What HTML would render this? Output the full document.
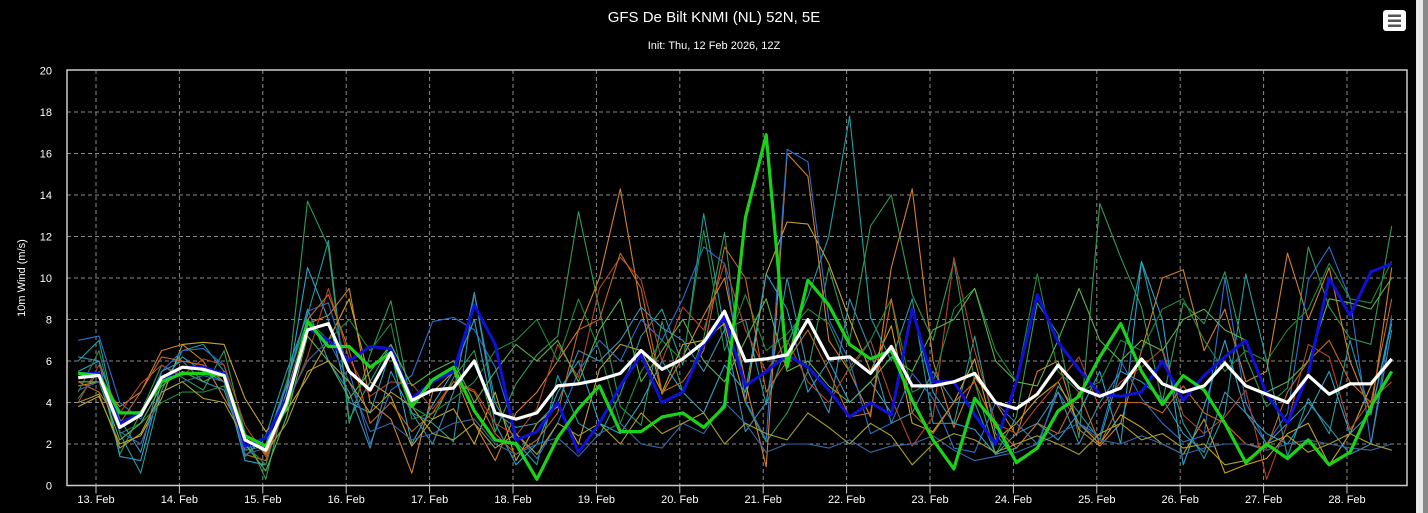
<!DOCTYPE html>
<html><head><meta charset="utf-8"><style>
html,body{margin:0;padding:0;background:#000;width:1428px;height:513px;overflow:hidden}
svg{display:block;font-family:"Liberation Sans",sans-serif}
</style></head><body>
<svg id="chart" width="1428" height="513" viewBox="0 0 1428 513">
<rect x="0" y="0" width="1428" height="513" fill="#000"/>
<rect x="1416" y="0" width="7" height="513" fill="#e8e8e8"/>
<rect x="1423" y="0" width="5" height="513" fill="#8a8a8a"/>
<text x="714" y="22" fill="#fff" font-size="15" text-anchor="middle">GFS De Bilt KNMI (NL) 52N, 5E</text>
<text x="714" y="49" fill="#fff" font-size="11" text-anchor="middle">Init: Thu, 12 Feb 2026, 12Z</text>
<g>
<rect x="1383" y="10" width="23" height="21" rx="3" fill="#fff"/>
<rect x="1388" y="14.5" width="13" height="2.5" fill="#555"/>
<rect x="1388" y="19.5" width="13" height="2.5" fill="#555"/>
<rect x="1388" y="24.5" width="13" height="2.5" fill="#555"/>
</g>
<text transform="translate(25,278) rotate(-90)" fill="#fff" font-size="11" text-anchor="middle">10m Wind (m/s)</text>
<g id="grid"></g>
<g id="series"></g>
<rect x="67" y="70" width="1340" height="415.5" fill="none" stroke="#ccc" stroke-width="1.5"/>
<g id="axes"></g>
</svg>
<script>
const yTicks=[0,2,4,6,8,10,12,14,16,18,20];
const dayLabels=["13. Feb","14. Feb","15. Feb","16. Feb","17. Feb","18. Feb","19. Feb","20. Feb","21. Feb","22. Feb","23. Feb","24. Feb","25. Feb","26. Feb","27. Feb","28. Feb"];
const meanSeries=[5.2,5.3,2.8,3.4,5.2,5.7,5.6,5.3,2.2,1.7,4.0,7.5,7.8,5.5,4.6,6.4,4.1,4.6,4.7,6.0,3.5,3.2,3.5,4.8,4.9,5.1,5.4,6.5,5.6,6.1,6.9,8.4,6.0,6.1,6.3,8.0,6.1,6.2,5.4,6.7,4.8,4.8,5.0,5.4,4.0,3.7,4.4,5.8,4.7,4.3,4.7,6.1,4.9,4.5,4.8,5.9,4.8,4.4,4.0,5.3,4.4,4.9,4.9,6.1];
const controlSeries=[5.4,5.3,3.5,3.5,5.0,5.4,5.4,5.3,2.4,1.9,3.8,7.9,6.7,6.7,5.7,6.4,3.8,5.1,5.7,3.6,2.2,2.0,0.3,2.3,3.7,4.8,2.6,2.6,3.3,3.5,2.8,3.8,12.9,16.9,5.7,9.9,8.7,6.8,6.1,6.5,4.1,2.2,0.8,4.2,3.0,1.1,1.8,3.6,4.3,6.2,7.8,5.5,3.9,5.3,4.6,3.0,1.1,2.0,1.3,2.2,1.0,1.6,3.8,5.5];
const operSeries=[5.4,5.4,3.0,3.5,5.1,5.7,5.7,5.4,1.9,2.3,4.2,7.6,7.0,6.0,6.7,6.6,4.2,5.0,5.5,8.7,6.8,2.2,2.6,4.0,1.6,3.0,4.8,6.3,4.0,4.5,6.8,8.1,4.8,5.5,6.3,5.7,4.6,3.3,4.0,3.4,8.5,5.0,5.0,3.4,2.0,5.0,9.2,6.9,5.6,4.4,4.3,4.5,6.0,4.1,5.3,6.2,7.0,4.4,3.0,5.4,10.0,8.2,10.3,10.7];
const m1=[6.0,7.0,2.5,0.6,4.6,6.5,6.8,5.5,1.4,2.4,5.5,8.2,11.8,3.2,5.0,6.8,3.5,3.0,2.1,9.3,4.0,2.1,1.0,5.3,3.0,2.4,4.4,7.2,8.5,5.8,13.1,7.5,8.0,3.9,6.8,9.1,12.0,17.8,8.1,6.0,9.0,3.0,3.0,7.2,2.5,1.2,1.8,4.8,3.5,2.2,5.6,10.8,6.5,3.0,1.3,3.5,10.2,6.0,1.4,4.2,2.5,7.0,3.4,8.0];
const m2=[4.2,5.5,1.5,3.5,5.8,5.2,4.6,6.5,2.5,0.3,4.5,13.7,11.5,3.0,6.3,8.9,3.8,3.2,5.2,6.5,2.6,4.9,6.3,7.2,13.2,8.5,3.8,2.9,7.9,4.5,7.1,12.2,4.0,2.1,3.5,5.5,10.5,7.0,12.5,14.0,9.2,7.0,10.8,5.0,1.5,3.3,8.8,7.3,2.3,13.6,11.0,8.6,4.0,8.8,7.8,10.3,6.2,3.8,4.7,11.5,8.6,7.1,6.8,12.5];
const m3=[4.8,5.0,3.8,4.5,6.5,6.8,6.0,4.2,2.5,1.5,4.5,7.8,8.2,9.5,4.0,3.2,0.6,4.5,5.5,3.0,1.2,3.5,4.5,6.0,7.5,10.0,14.3,8.5,4.4,6.2,8.2,10.0,5.0,0.9,16.0,14.9,7.0,5.5,3.3,10.5,14.3,6.0,2.8,5.2,4.0,2.4,5.5,6.0,2.7,1.9,3.0,6.5,10.0,10.4,6.5,8.5,5.0,5.5,11.2,8.0,10.5,6.0,3.5,10.5];
const m4=[3.8,4.3,2.0,2.4,4.2,6.8,6.9,6.8,4.2,2.6,3.6,5.2,7.0,9.0,5.0,4.3,1.9,3.2,3.7,2.0,4.5,1.2,3.0,3.8,2.0,5.6,6.8,6.5,4.5,6.8,7.0,7.8,4.0,10.2,12.7,12.6,10.7,8.0,5.5,7.7,3.0,2.6,4.0,6.1,2.2,3.0,4.2,5.0,3.0,2.0,3.4,2.8,2.0,1.5,3.2,0.6,1.0,1.3,2.5,3.0,1.0,2.5,4.8,6.0];
const m5=[7.0,7.2,4.0,3.2,5.5,6.5,6.6,5.8,1.8,2.0,5.0,8.4,8.8,5.5,2.0,4.6,5.3,7.9,8.1,7.5,5.7,2.5,1.3,3.0,5.5,7.0,6.0,8.0,7.0,9.0,11.5,10.7,4.1,2.2,16.2,15.6,8.0,6.0,2.5,3.0,5.4,4.2,1.8,1.6,4.0,3.0,2.0,4.5,3.0,2.4,6.0,4.2,3.0,2.1,2.4,10.0,4.0,2.0,3.5,9.9,11.5,9.0,2.0,8.2];
const m6=[5.5,6.0,1.4,1.2,5.0,6.2,5.5,5.0,1.2,1.0,4.5,10.5,8.0,4.0,3.5,6.5,2.0,3.9,5.5,8.0,3.0,1.0,2.0,4.5,6.0,3.0,2.5,4.0,6.0,4.5,3.5,5.8,4.5,10.2,8.5,4.5,6.0,4.0,5.0,3.5,8.5,4.5,3.0,2.7,1.5,1.8,3.0,2.2,3.5,5.5,2.0,10.8,8.0,1.0,3.8,7.0,3.5,2.5,2.0,3.5,5.5,2.5,3.5,7.8];
const m7=[4.0,5.8,3.5,4.9,5.8,5.3,6.1,5.8,2.9,1.4,3.8,6.2,9.5,6.1,4.3,5.0,4.9,3.7,5.0,4.6,3.0,2.4,3.7,6.8,5.2,9.5,11.0,9.9,6.0,8.6,7.5,10.7,7.5,5.5,7.0,5.0,4.0,5.7,7.0,4.2,1.9,3.3,11.0,6.5,3.0,2.5,3.8,5.0,6.2,3.7,5.0,5.7,6.6,3.4,2.5,3.3,4.6,0.3,3.0,6.8,6.2,2.7,4.1,5.0];
const m8=[4.5,6.5,2.5,3.0,4.0,4.5,4.5,4.8,2.0,1.0,5.0,8.0,7.0,8.0,6.5,7.8,3.2,3.5,4.2,5.0,6.5,7.0,8.0,6.0,9.0,6.5,3.0,5.5,7.0,6.0,12.3,6.5,9.2,6.5,7.3,8.5,7.8,5.5,7.0,9.0,4.5,5.0,8.5,9.5,6.5,5.0,10.2,5.5,4.5,5.0,7.0,6.5,8.5,9.0,7.0,5.5,6.5,6.0,7.5,8.5,10.7,9.0,8.8,10.8];
const m9=[6.2,6.0,3.2,1.6,5.5,6.0,5.0,4.6,1.7,1.9,4.8,8.5,6.0,4.5,1.8,5.5,3.5,2.0,4.5,9.3,3.5,2.8,3.0,4.0,6.5,6.0,7.0,8.6,7.6,7.0,5.5,7.5,2.6,4.0,10.0,5.5,3.5,9.0,6.5,3.0,3.5,5.5,4.0,4.0,1.5,2.5,3.0,4.5,2.0,4.0,5.5,5.0,4.2,2.5,1.6,4.5,3.5,2.0,3.0,4.0,2.8,1.5,2.0,7.5];
const m10=[5.0,5.0,2.2,3.0,4.8,5.5,5.0,5.5,2.0,0.7,3.3,7.2,6.0,4.2,5.5,6.8,4.8,5.5,6.0,4.0,5.5,6.8,6.0,7.0,5.0,7.5,9.0,5.0,6.5,8.0,6.0,5.0,7.0,9.0,5.5,6.0,4.8,4.0,5.0,6.2,5.5,7.5,8.0,9.5,6.0,5.0,4.8,7.0,9.5,7.0,6.0,7.0,6.5,8.0,8.5,7.5,7.0,4.5,5.0,6.0,9.0,8.8,8.5,10.0];
const m11=[5.0,4.5,3.0,4.5,6.2,6.0,5.8,5.0,1.5,1.2,4.2,8.0,9.2,6.5,3.0,4.0,2.6,3.5,5.0,4.5,2.5,1.5,2.2,3.5,7.5,8.0,11.2,9.5,4.5,5.0,6.5,11.5,10.0,4.5,6.0,7.5,5.5,3.3,3.5,9.0,3.5,2.5,4.0,5.0,2.8,1.8,3.0,2.5,4.5,2.0,4.0,4.0,3.5,4.8,3.5,3.0,2.0,1.8,4.5,6.0,7.0,5.0,4.0,9.0];
const m12=[4.6,5.0,2.6,2.0,4.5,5.0,5.3,5.0,1.5,1.8,4.0,6.0,7.0,5.0,2.6,3.0,2.2,2.5,3.0,3.2,2.0,1.5,2.0,2.3,1.4,2.5,3.0,2.0,1.8,3.0,2.5,4.0,3.0,1.6,2.0,2.0,1.8,2.2,1.6,1.9,2.0,2.4,1.7,1.2,1.4,1.6,2.0,2.5,3.0,2.2,2.0,2.4,2.0,1.5,1.8,2.0,2.0,1.7,2.0,2.2,2.0,1.8,1.7,2.0];
const m13=[4.0,4.4,1.8,2.5,4.5,5.0,4.2,4.0,2.2,1.6,3.0,5.5,6.0,5.0,3.5,4.5,3.8,2.5,2.2,3.0,1.8,2.5,1.5,3.0,2.4,3.0,2.0,3.5,2.5,3.0,3.5,2.0,3.0,2.5,2.2,3.5,2.8,2.0,3.0,2.4,1.0,2.0,2.5,2.2,1.6,2.0,2.4,2.0,1.5,2.5,3.0,2.2,2.5,1.8,2.0,1.0,1.2,2.0,2.4,1.6,2.0,2.5,2.0,1.7];
const members=[m1,m2,m3,m4,m5,m6,m7,m8,m9,m10,m11,m12,m13];
const memberColors=["#1f9e9e","#2e9b57","#d2802a","#c8a227","#2a6fd1","#29a3c9","#b5432a","#1e8a3c","#3b8fb0","#5bb34a","#c2691f","#3468a8","#a8a030"];

const NS="http://www.w3.org/2000/svg";
const X0=96, DAYW=83.4, Y0=485.5, YU=20.75, PL=67, PR=1407, PT=70, SHIFT=3;
function xDay(d){return X0+d*DAYW;}
function xIdx(i){return X0+SHIFT+(i-1)*DAYW/4;}   // index 0 = 12 Feb 18Z
function yVal(v){return Y0-v*YU;}
function mk(tag,attrs,parent){const e=document.createElementNS(NS,tag);for(const k in attrs)e.setAttribute(k,attrs[k]);parent.appendChild(e);return e;}
const grid=document.getElementById('grid'),axes=document.getElementById('axes'),ser=document.getElementById('series');
yTicks.forEach(v=>{
  const y=yVal(v);
  if(v>0&&v<20){const l=mk('line',{x1:PL,x2:PR,y1:y,y2:y,stroke:'#8a8a8a','stroke-width':1,'stroke-dasharray':'4,3'},grid);
  
  }
  const t=mk('text',{x:52,y:y+4,fill:'#fff','font-size':11,'text-anchor':'end'},axes);
  t.textContent=v;
  
  
});
dayLabels.forEach((lab,d)=>{
  const x=xDay(d);
  const g=mk('line',{x1:x,x2:x,y1:PT,y2:Y0,stroke:'#8a8a8a','stroke-width':1,'stroke-dasharray':'4,3'},grid);
  
  
  const tk=mk('line',{x1:x,x2:x,y1:Y0,y2:Y0+8,stroke:'#ccc','stroke-width':1},axes);
  
  
  const t=mk('text',{x:x,y:503,fill:'#fff','font-size':11,'text-anchor':'middle'},axes);
  t.textContent=lab;
  
  
});
function pts(arr){return arr.map((v,i)=>xIdx(i).toFixed(1)+','+yVal(v).toFixed(1)).join(' ');}
members.forEach((arr,k)=>{
  const p=mk('polyline',{points:pts(arr),fill:'none',stroke:memberColors[k],'stroke-width':1.1,'stroke-linejoin':'round'},ser);
  
  
});
const pb=mk('polyline',{points:pts(operSeries),fill:'none',stroke:'#1010d8','stroke-width':3,'stroke-linejoin':'round'},ser);


const pg=mk('polyline',{points:pts(controlSeries),fill:'none',stroke:'#19d319','stroke-width':3.2,'stroke-linejoin':'round'},ser);


const pw=mk('polyline',{points:pts(meanSeries),fill:'none',stroke:'#fff','stroke-width':3.2,'stroke-linejoin':'round'},ser);


</script>
</body></html>
